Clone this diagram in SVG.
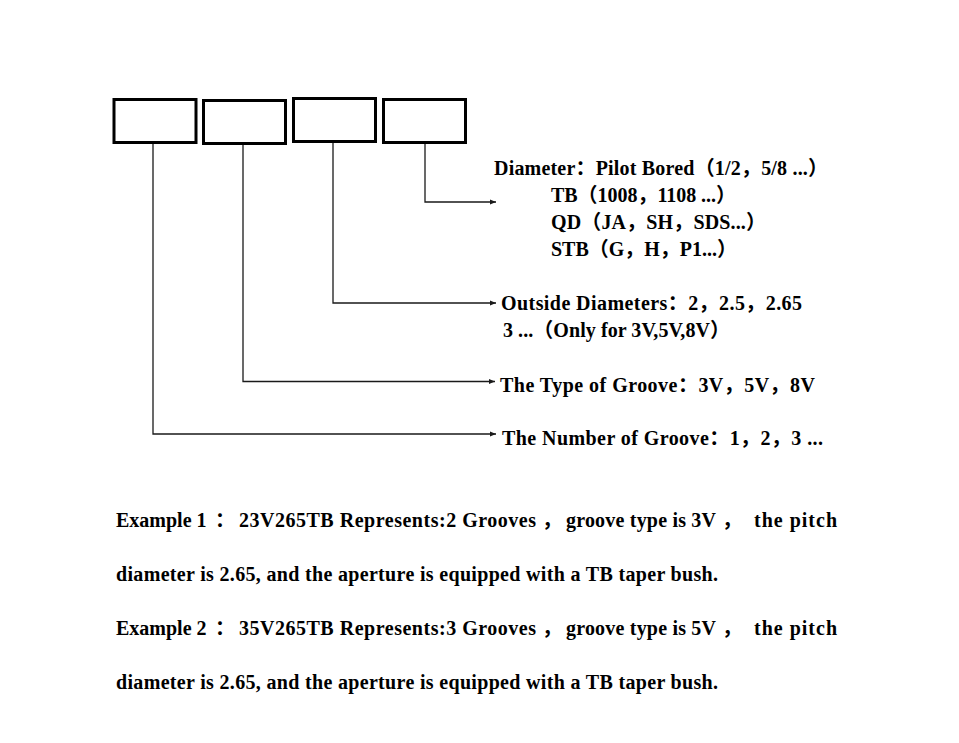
<svg xmlns="http://www.w3.org/2000/svg" width="959" height="743" viewBox="0 0 959 743">
<defs>
<style>
.box{fill:#fff;stroke:#000;stroke-width:3}
.conn{fill:none;stroke:#1a1a1a;stroke-width:1.3}
text{font-family:"Liberation Serif","Noto Sans CJK SC",serif;font-weight:bold;font-size:20px;fill:#000}
</style>
<marker id="arr" markerWidth="7" markerHeight="6" refX="6" refY="3" orient="auto" markerUnits="userSpaceOnUse">
<path d="M0,0.5 L6,3 L0,5.5 Z" fill="#1a1a1a"/>
</marker>
</defs>
<rect width="959" height="743" fill="#fff"/>
<g id="box1"><rect class="box" x="114" y="99.5" width="82" height="43"/></g>
<g id="box2"><rect class="box" x="203.5" y="100.5" width="82" height="43"/></g>
<g id="box3"><rect class="box" x="293.5" y="98.5" width="82" height="43"/></g>
<g id="box4"><rect class="box" x="383.5" y="99.5" width="82" height="43"/></g>
<g id="connectors">
<path class="conn" d="M425,144 V202 H496" marker-end="url(#arr)"/>
<path class="conn" d="M333,143 V303 H496" marker-end="url(#arr)"/>
<path class="conn" d="M243,145 V381.5 H495" marker-end="url(#arr)"/>
<path class="conn" d="M153,144 V434 H496" marker-end="url(#arr)"/>
</g>
<g id="label-diameter">
<text x="494" y="175" textLength="334" lengthAdjust="spacing">Diameter：Pilot Bored（1/2，5/8 ...）</text>
<text x="551" y="202" textLength="185" lengthAdjust="spacing">TB（1008，1108 ...）</text>
<text x="551" y="229" textLength="215" lengthAdjust="spacing">QD（JA，SH，SDS...）</text>
<text x="551" y="256" textLength="186" lengthAdjust="spacing">STB（G，H，P1...）</text>
</g>
<g id="label-outside">
<text x="501" y="310" textLength="301" lengthAdjust="spacing">Outside Diameters：2，2.5，2.65</text>
<text x="503" y="337" textLength="227" lengthAdjust="spacing">3 ...（Only for 3V,5V,8V）</text>
</g>
<g id="label-type"><text x="500" y="392" textLength="315" lengthAdjust="spacing">The Type of Groove：3V，5V，8V</text></g>
<g id="label-number"><text x="502" y="445" textLength="321" lengthAdjust="spacing">The Number of Groove：1，2，3 ...</text></g>
<g id="examples">
<text x="116" y="527">Example 1</text>
<text x="215" y="527">：</text>
<text x="239" y="527" textLength="297" lengthAdjust="spacing">23V265TB Represents:2 Grooves</text>
<text x="542" y="527">，</text>
<text x="566" y="527" textLength="150" lengthAdjust="spacing">groove type is 3V</text>
<text x="722" y="527">，</text>
<text x="754" y="527" textLength="83" lengthAdjust="spacing">the pitch</text>
<text x="116" y="581" textLength="602" lengthAdjust="spacing">diameter is 2.65, and the aperture is equipped with a TB taper bush.</text>
<text x="116" y="635">Example 2</text>
<text x="215" y="635">：</text>
<text x="239" y="635" textLength="297" lengthAdjust="spacing">35V265TB Represents:3 Grooves</text>
<text x="542" y="635">，</text>
<text x="566" y="635" textLength="150" lengthAdjust="spacing">groove type is 5V</text>
<text x="722" y="635">，</text>
<text x="754" y="635" textLength="83" lengthAdjust="spacing">the pitch</text>
<text x="116" y="689" textLength="602" lengthAdjust="spacing">diameter is 2.65, and the aperture is equipped with a TB taper bush.</text>
</g>
</svg>
